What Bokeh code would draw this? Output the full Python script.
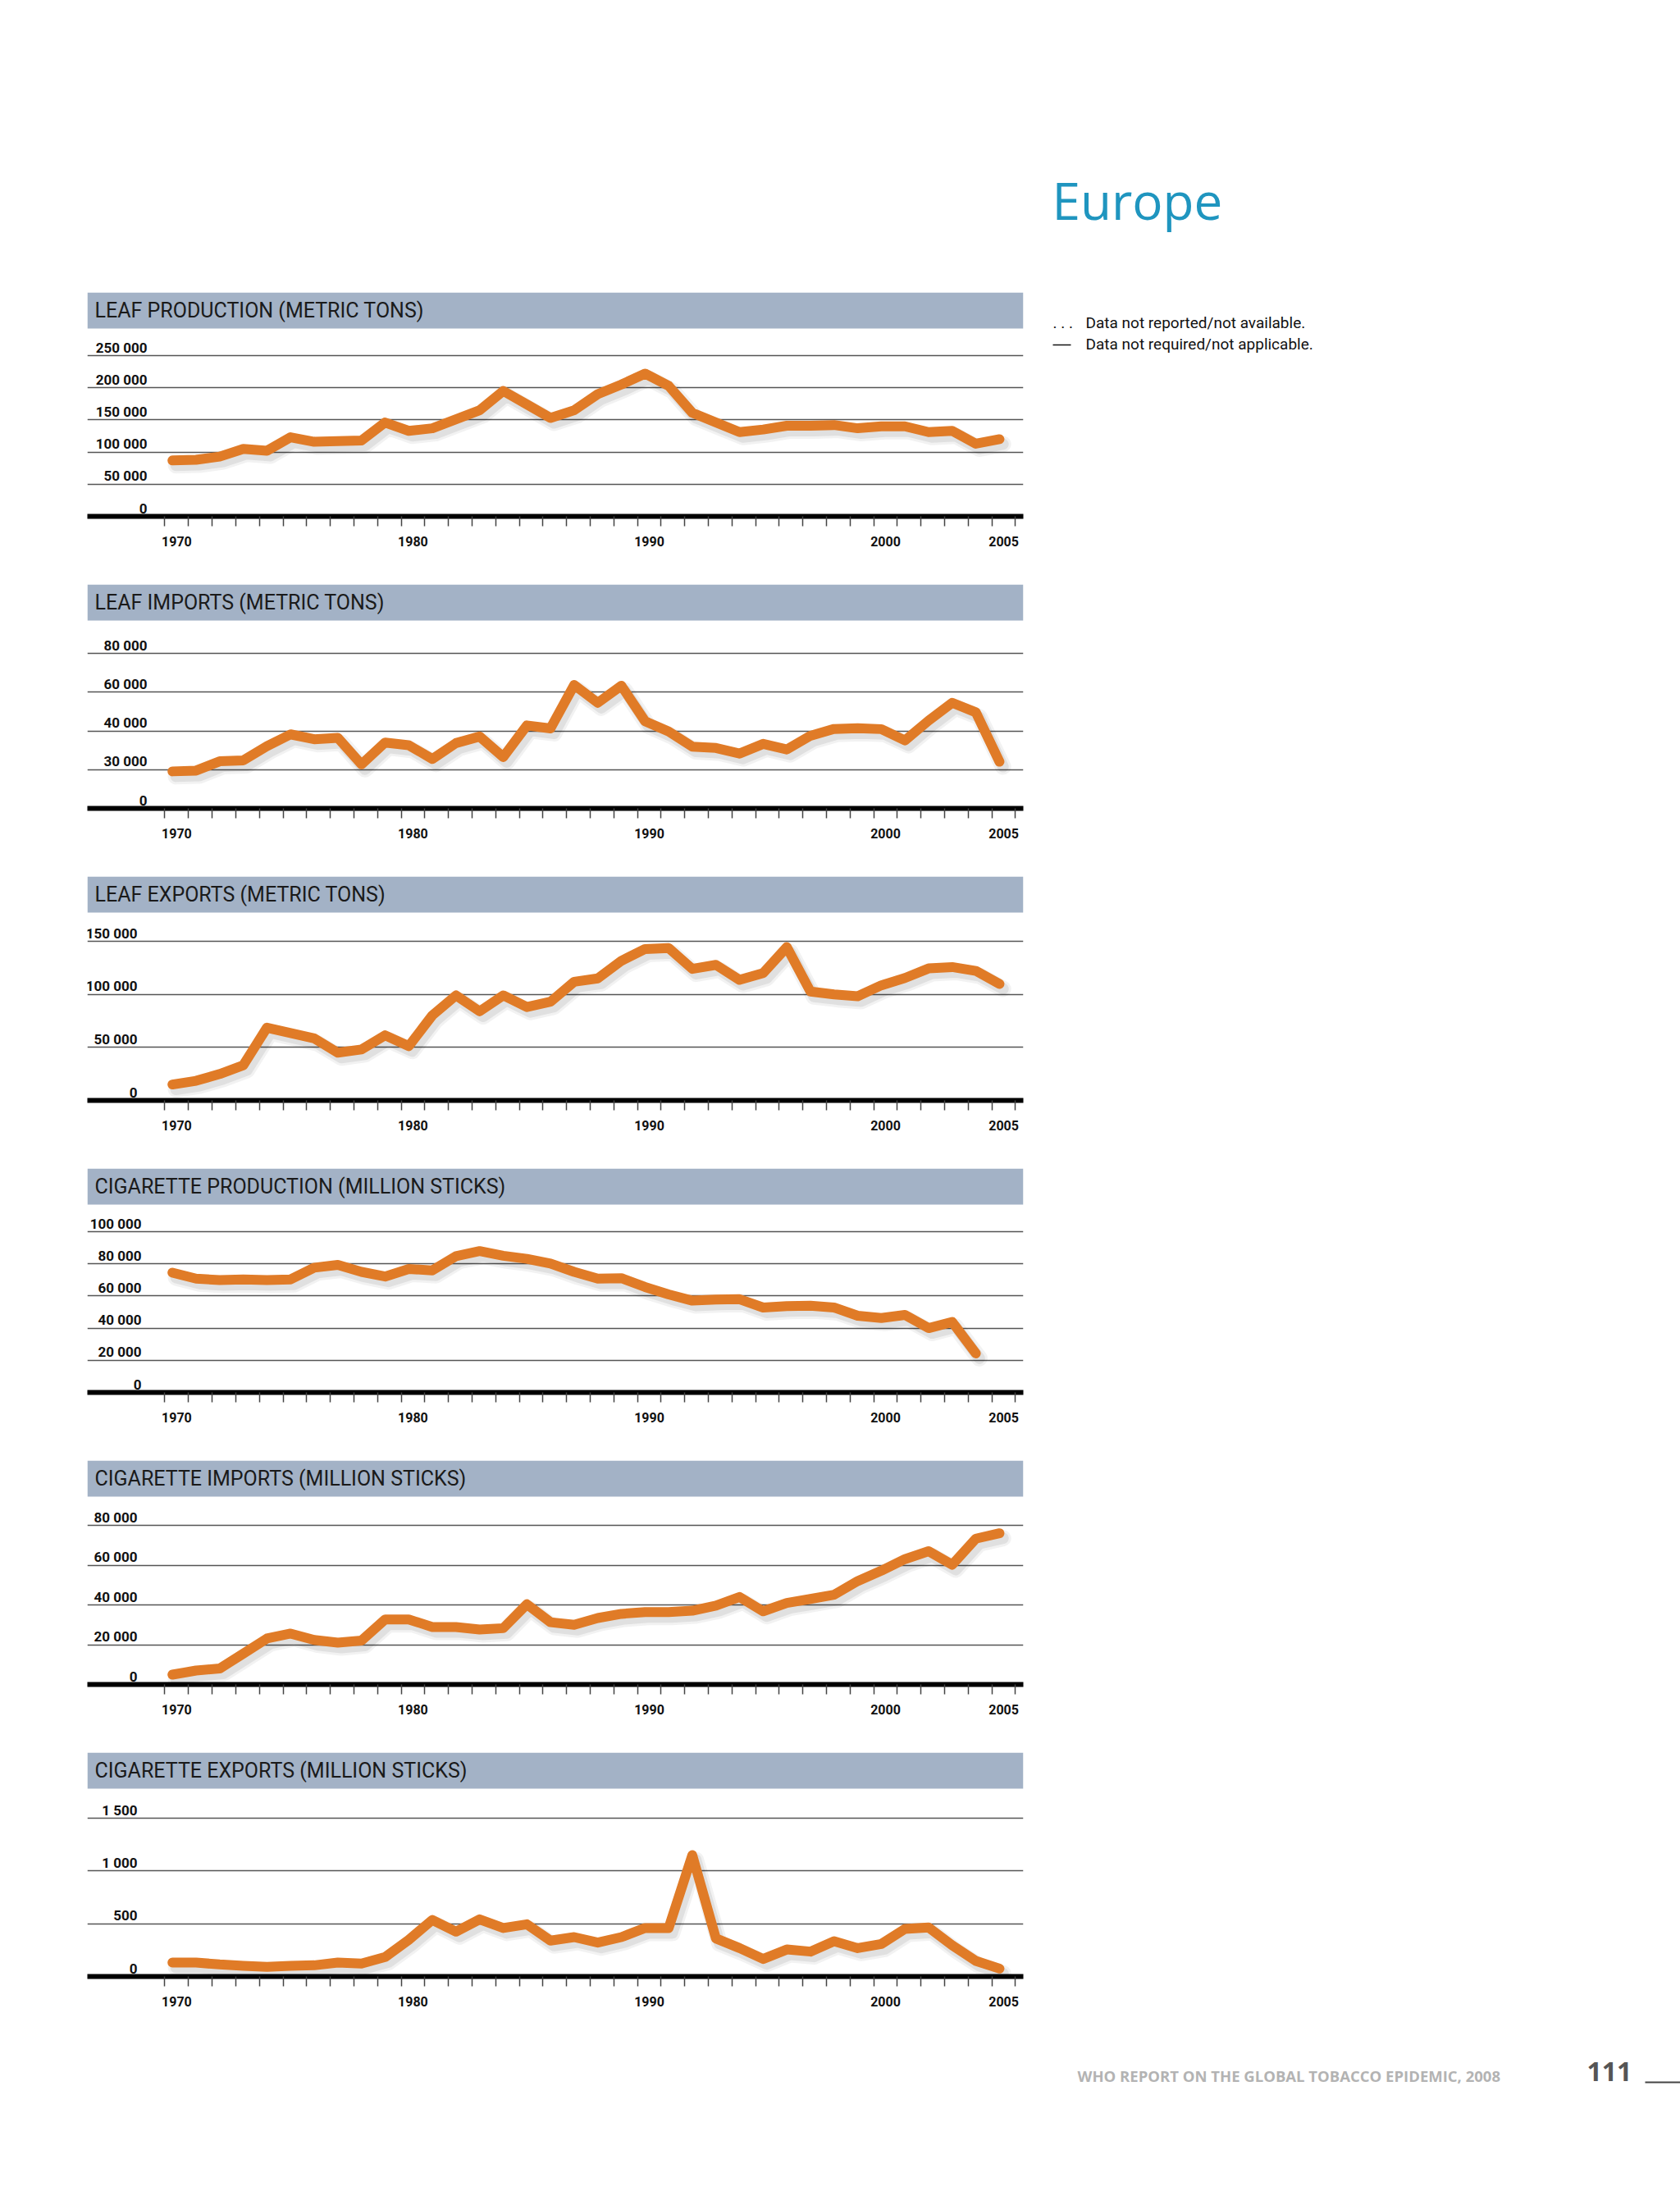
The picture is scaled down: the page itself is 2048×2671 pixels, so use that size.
from bokeh.plotting import figure
from bokeh.models import Range1d, FixedTicker, BoxAnnotation, Label, Spacer, CustomJSTickFormatter
from bokeh.layouts import column, row
from bokeh.core.properties import value
from bokeh.embed import file_html
from bokeh.resources import INLINE

nan = float("nan")

# ---------------- data ----------------
years = list(range(1970, 2006))
year_labels = [1970, 1980, 1990, 2000, 2005]

leaf_production = [87000, 88000, 93000, 105000, 102000, 123000, 116000, 117000, 118000, 146000,
                   133000, 137000, 151000, 165000, 195000, 174000, 153000, 165000, 190000, 205000,
                   222000, 203000, 161000, 146000, 131000, 135000, 141000, 141000, 142000, 137000,
                   140000, 140000, 131000, 133000, 113000, 120000]
leaf_production_ticks = [0, 50000, 100000, 150000, 200000, 250000]
leaf_production_labels = ["0", "50 000", "100 000", "150 000", "200 000", "250 000"]

leaf_imports = [19100, 19500, 24300, 24800, 32100, 38200, 35700, 36400, 22700, 34000,
                32600, 25500, 33700, 37100, 26500, 42800, 41300, 63700, 54500, 63300,
                45000, 39700, 31900, 31200, 28300, 33300, 30400, 37500, 41000, 41400,
                40900, 35100, 45300, 54500, 49600, 24100]
leaf_imports_ticks = [0, 20000, 40000, 60000, 80000]
leaf_imports_labels = ["0", "30 000", "40 000", "60 000", "80 000"]

leaf_exports = [15000, 18500, 24900, 33200, 68600, 63500, 58400, 45000, 48000, 61400,
                51200, 80200, 99000, 84000, 99000, 88000, 93000, 111800, 115000, 131600,
                142700, 143700, 124000, 127800, 113600, 120000, 144500, 102600, 100000, 98200,
                108500, 115400, 124400, 125700, 122100, 109800]
leaf_exports_ticks = [0, 50000, 100000, 150000]
leaf_exports_labels = ["0", "50 000", "100 000", "150 000"]

cig_production = [74500, 70800, 69900, 70300, 69900, 70300, 77600, 79300, 75000, 72100,
                  76800, 75900, 84800, 87900, 85000, 83100, 80200, 75000, 70800, 71100,
                  65600, 61000, 57100, 57800, 58000, 52800, 53700, 54000, 52800, 47700,
                  46300, 48200, 40000, 43800, 24300, nan]
cig_production_ticks = [0, 20000, 40000, 60000, 80000, 100000]
cig_production_labels = ["0", "20 000", "40 000", "60 000", "80 000", "100 000"]

cig_imports = [4950, 7000, 8000, 15500, 23100, 25600, 22400, 21000, 22100, 32700,
               32700, 28900, 28900, 27600, 28300, 40300, 31300, 30000, 33400, 35500,
               36400, 36400, 37100, 39600, 44000, 36800, 41000, 43000, 45100, 52000,
               57200, 63000, 67000, 60200, 73300, 76000]
cig_imports_ticks = [0, 20000, 40000, 60000, 80000]
cig_imports_labels = ["0", "20 000", "40 000", "60 000", "80 000"]

cig_exports = [132, 132, 114, 101, 91, 101, 106, 132, 122, 184,
               347, 536, 425, 541, 459, 495, 340, 373, 321, 373,
               459, 459, 1150, 360, 269, 166, 256, 236, 334, 269,
               308, 451, 464, 295, 148, 75]
cig_exports_ticks = [0, 500, 1000, 1500]
cig_exports_labels = ["0", "500", "1 000", "1 500"]

titles = ["LEAF PRODUCTION (METRIC TONS)", "LEAF IMPORTS (METRIC TONS)",
          "LEAF EXPORTS (METRIC TONS)", "CIGARETTE PRODUCTION (MILLION STICKS)",
          "CIGARETTE IMPORTS (MILLION STICKS)", "CIGARETTE EXPORTS (MILLION STICKS)"]

# ---------------- style ----------------
NARROW = "Roboto"
ORANGE = "#E07B27"
BAR = "#A3B2C6"
GRID = "#555555"
FRAME_H = 273
FIG_H = 356
BAR_H = 44
LEFT_W = 1258
PAGE_W = 2048
PAGE_H = 2664
X0, X1 = 1966.40, 2006.01
LBL_SHIFT = 0.18   # year labels / bins sit slightly right of the plotted points


def panel(title, vals, ticks, labels, grid_h, label_px):
    end = ticks[-1] * FRAME_H / grid_h
    unit = end / FRAME_H  # data units per pixel
    p = figure(width=LEFT_W, height=FIG_H, x_range=Range1d(X0, X1), y_range=Range1d(0, end),
               min_border_left=106, min_border_right=11, min_border_top=0,
               min_border_bottom=FIG_H - FRAME_H, toolbar_location=None,
               output_backend="svg", y_axis_location=None)
    p.outline_line_color = None
    p.xgrid.visible = False
    p.ygrid.ticker = FixedTicker(ticks=ticks[1:])
    p.ygrid.grid_line_color = GRID
    p.ygrid.grid_line_width = 1.6

    ax = p.xaxis[0]
    ax.ticker = FixedTicker(ticks=[y + LBL_SHIFT for y in year_labels],
                            minor_ticks=[y - 0.5 + LBL_SHIFT for y in years] + [years[-1] + 0.5 + LBL_SHIFT])
    ax.formatter = CustomJSTickFormatter(code="return Math.round(tick).toString();")
    ax.axis_line_width = 6
    ax.axis_line_color = "black"
    ax.major_tick_line_color = None
    ax.major_tick_out = 0
    ax.major_tick_in = 0
    ax.minor_tick_line_color = "#444444"
    ax.minor_tick_line_width = 1.5
    ax.minor_tick_out = 12
    ax.minor_tick_in = 0
    ax.major_label_standoff = 12
    ax.major_label_text_font = NARROW
    ax.major_label_text_font_style = "bold"
    ax.major_label_text_font_size = "16px"
    ax.major_label_text_color = "#111111"

    # header bar
    bar_bottom = end * (FRAME_H - BAR_H) / FRAME_H
    p.add_layout(BoxAnnotation(bottom=bar_bottom, fill_color=BAR, fill_alpha=1.0, line_color=None))
    p.add_layout(Label(x=X0, y=end * (FRAME_H - BAR_H / 2) / FRAME_H, x_offset=9, text=title,
                       text_baseline="middle", text_font=NARROW, text_font_size="25px",
                       text_color="#1a1a1a"))

    # y tick labels (inside the frame, just above the grid lines)
    p.text(x=[X0] * len(ticks), y=[t + 10 * unit for t in ticks], text=labels, x_offset=label_px,
           text_align="right", text_baseline="middle", text_font=value(NARROW),
           text_font_style="bold", text_font_size=value("17px"), text_color="#111111")

    # soft shadow + line
    sx = [y + 0.15 for y in years]
    sy = [v - 6 * unit for v in vals]
    p.line(sx, sy, line_width=20, line_color="#000000", line_alpha=0.05,
           line_join="round", line_cap="round")
    p.line(sx, sy, line_width=14, line_color="#000000", line_alpha=0.07,
           line_join="round", line_cap="round")
    p.line(years, vals, line_width=12, line_color=ORANGE, line_join="round", line_cap="round")
    return p


panels = [
    panel(titles[0], leaf_production, leaf_production_ticks, leaf_production_labels, 196, 73),
    panel(titles[1], leaf_imports, leaf_imports_ticks, leaf_imports_labels, 189, 73),
    panel(titles[2], leaf_exports, leaf_exports_ticks, leaf_exports_labels, 194, 61),
    panel(titles[3], cig_production, cig_production_ticks, cig_production_labels, 196, 66),
    panel(titles[4], cig_imports, cig_imports_ticks, cig_imports_labels, 194, 61),
    panel(titles[5], cig_exports, cig_exports_ticks, cig_exports_labels, 193, 61),
]

left = column(Spacer(width=LEFT_W, height=356), *panels)

# right-hand column: region title, legend notes, footer
R_W = PAGE_W - LEFT_W
R_H = PAGE_H
r = figure(width=R_W, height=R_H, x_range=Range1d(0, R_W), y_range=Range1d(R_H, 0),
           toolbar_location=None, output_backend="svg", x_axis_location=None,
           y_axis_location=None, min_border=0)
r.outline_line_color = None
r.grid.visible = False

r.text(x=[24], y=[243], text=["Europe"], text_font=value("Open Sans"),
       text_font_size=value("62px"), text_color="#1f95bf", text_baseline="middle")
r.text(x=[25], y=[393], text=[". . ."], text_font=value(NARROW),
       text_font_size=value("19px"), text_color="#111111", text_baseline="middle")
r.segment(x0=[25], y0=[420], x1=[47], y1=[420], line_color="#111111", line_width=1.5)
r.text(x=[65, 65], y=[393, 419],
       text=["Data not reported/not available.", "Data not required/not applicable."],
       text_font=value(NARROW), text_font_size=value("19px"), text_color="#111111",
       text_baseline="middle")
r.text(x=[55], y=[2530], text=["WHO REPORT ON THE GLOBAL TOBACCO EPIDEMIC, 2008"],
       text_font=value("Open Sans"), text_font_style="bold", text_font_size=value("18.5px"),
       text_color="#b3b3b3", text_baseline="middle")
r.text(x=[676], y=[2525], text=["111"], text_font=value("Open Sans"), text_font_style="bold",
       text_font_size=value("32px"), text_color="#555555", text_baseline="middle")
r.segment(x0=[747], y0=[2538], x1=[R_W], y1=[2538], line_color="#444444", line_width=2)

layout = row(left, r)
open("out.html", "w").write(file_html(layout, INLINE))
